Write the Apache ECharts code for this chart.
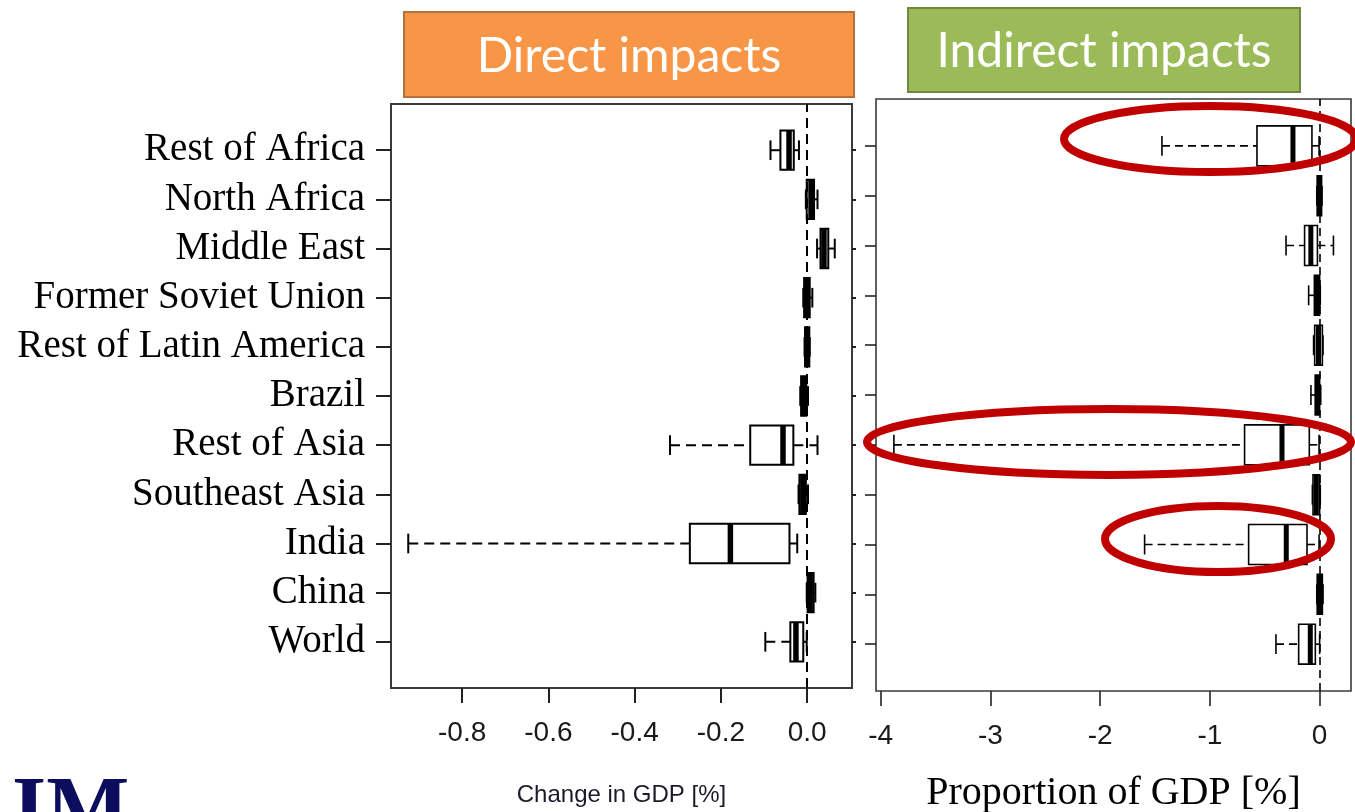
<!DOCTYPE html>
<html>
<head>
<meta charset="utf-8">
<script src="https://cdn.jsdelivr.net/npm/echarts@6/dist/echarts.min.js"></script>
<style>
  html, body { margin: 0; padding: 0; background: #ffffff; }
  #chart { width: 1355px; height: 812px; }
</style>
</head>
<body>
<div id="chart"></div>
<script>
// Regions, listed top to bottom as they appear on the y axis
const regions = [
  'Rest of Africa', 'North Africa', 'Middle East', 'Former Soviet Union',
  'Rest of Latin America', 'Brazil', 'Rest of Asia', 'Southeast Asia',
  'India', 'China', 'World'
];

// Direct impacts: change in GDP [%] — [lower whisker, Q1, median, Q3, upper whisker]
const directStats = [
  [-0.085, -0.062, -0.042, -0.031, -0.019],
  [-0.003, -0.001,  0.009,  0.016,  0.024],
  [ 0.023,  0.031,  0.039,  0.049,  0.064],
  [-0.009, -0.007, -0.001,  0.006,  0.012],
  [-0.006, -0.005,  0.000,  0.005,  0.006],
  [-0.016, -0.014, -0.008, -0.002,  0.002],
  [-0.318, -0.132, -0.056, -0.032,  0.024],
  [-0.020, -0.018, -0.010, -0.003,  0.002],
  [-0.925, -0.272, -0.178, -0.041, -0.023],
  [-0.001,  0.001,  0.007,  0.015,  0.019],
  [-0.097, -0.039, -0.026, -0.009, -0.001]
];

// Indirect impacts: proportion of GDP [%] — [lower whisker, Q1, median, Q3, upper whisker]
const indirectStats = [
  [-1.437, -0.571, -0.243, -0.070, -0.005],
  [-0.026, -0.022, -0.002,  0.018,  0.022],
  [-0.306, -0.137, -0.080, -0.020,  0.126],
  [-0.100, -0.048, -0.025,  0.000,  0.006],
  [-0.055, -0.045, -0.010,  0.025,  0.031],
  [-0.079, -0.040, -0.020,  0.000,  0.010],
  [-3.880, -0.684, -0.343, -0.094, -0.005],
  [-0.066, -0.060, -0.030,  0.000,  0.006],
  [-1.595, -0.647, -0.304, -0.115, -0.005],
  [-0.026, -0.022,  0.000,  0.025,  0.031],
  [-0.398, -0.191, -0.085, -0.039,  0.000]
];

// Axis tick values
const directTicks = [-0.8, -0.6, -0.4, -0.2, 0.0];
const indirectTicks = [-4, -3, -2, -1, 0];

const n = regions.length;
const positions = regions.map((_, i) => n - i);   // 11 at top ... 1 at bottom
const BOX_WEX = 0.8;

function toRows(stats) {
  return stats.map((s, i) => [positions[i]].concat(s));
}

function regionAt(v) {
  const i = n - Math.round(v);
  return regions[i] || '';
}

// Boxplot glyph: dashed whiskers, solid staples, white box, thick median
function boxRenderer(lw, medW, dash) {
  return function (params, api) {
    const pos = api.value(0);
    const lo = api.coord([api.value(1), pos]);
    const q1 = api.coord([api.value(2), pos]);
    const md = api.coord([api.value(3), pos]);
    const q3 = api.coord([api.value(4), pos]);
    const hi = api.coord([api.value(5), pos]);
    const h = api.size([0, BOX_WEX])[1];
    const y = q1[1];
    const ink = '#000';
    return {
      type: 'group',
      children: [
        { type: 'line', shape: { x1: lo[0], y1: y, x2: q1[0], y2: y },
          style: { stroke: ink, lineWidth: lw, lineDash: dash } },
        { type: 'line', shape: { x1: q3[0], y1: y, x2: hi[0], y2: y },
          style: { stroke: ink, lineWidth: lw, lineDash: dash } },
        { type: 'line', shape: { x1: lo[0], y1: y - h / 4, x2: lo[0], y2: y + h / 4 },
          style: { stroke: ink, lineWidth: lw } },
        { type: 'line', shape: { x1: hi[0], y1: y - h / 4, x2: hi[0], y2: y + h / 4 },
          style: { stroke: ink, lineWidth: lw } },
        { type: 'rect', shape: { x: q1[0], y: y - h / 2, width: q3[0] - q1[0], height: h },
          style: { fill: '#ffffff', stroke: ink, lineWidth: lw } },
        { type: 'line', shape: { x1: md[0], y1: y - h / 2, x2: md[0], y2: y + h / 2 },
          style: { stroke: ink, lineWidth: medW } }
      ]
    };
  };
}

function zeroLine(dash, width) {
  return {
    silent: true,
    symbol: ['none', 'none'],
    label: { show: false },
    lineStyle: { color: '#000', type: dash, width: width },
    data: [{ xAxis: 0 }],
    z: 10
  };
}

const chart = echarts.init(document.getElementById('chart'), null, { renderer: 'canvas' });

const tickLabelStyle = {
  fontFamily: 'Liberation Sans, Arial, sans-serif',
  fontSize: 28,
  color: '#1a1a1a'
};

const hiddenLine = { show: false, onZero: false };

const option = {
  animation: false,
  backgroundColor: '#ffffff',
  grid: [
    { left: 391, top: 104, width: 461, height: 584, show: true,
      outerBoundsMode: 'none', containLabel: false,
      borderColor: '#3a3a3a', borderWidth: 2, backgroundColor: '#ffffff' },
    { left: 876, top: 99, width: 475, height: 592, show: true,
      outerBoundsMode: 'none', containLabel: false,
      borderColor: '#3a3a3a', borderWidth: 1.6, backgroundColor: '#ffffff' }
  ],
  xAxis: [
    {
      gridIndex: 0, type: 'value', min: -0.965, max: 0.104,
      axisLine: hiddenLine,
      splitLine: { show: false },
      axisTick: { show: true, inside: false, length: 15, customValues: directTicks,
        lineStyle: { color: '#222', width: 2 } },
      axisLabel: { margin: 31, customValues: directTicks,
        formatter: v => Number(v).toFixed(1), ...tickLabelStyle },
      name: 'Change in GDP [%]',
      nameLocation: 'middle',
      nameGap: 95,
      nameTextStyle: { fontFamily: 'Liberation Sans, Arial, sans-serif', fontSize: 24, color: '#1a1a2a' }
    },
    {
      gridIndex: 1, type: 'value', min: -4.043, max: 0.286,
      axisLine: hiddenLine,
      splitLine: { show: false },
      axisTick: { show: true, inside: false, length: 15, customValues: indirectTicks,
        lineStyle: { color: '#222', width: 1.6 } },
      axisLabel: { margin: 31, customValues: indirectTicks,
        formatter: v => String(Math.round(v)), ...tickLabelStyle },
      name: 'Proportion of GDP [%]',
      nameLocation: 'middle',
      nameGap: 82,
      nameTextStyle: { fontFamily: 'Liberation Serif, Times New Roman, serif', fontSize: 40, color: '#000' }
    }
  ],
  yAxis: [
    {
      gridIndex: 0, type: 'value', min: 0.06, max: 11.94, position: 'left',
      axisLine: hiddenLine,
      splitLine: { show: false },
      axisTick: { show: true, inside: false, length: 15, customValues: positions,
        lineStyle: { color: '#222', width: 2 } },
      axisLabel: {
        customValues: positions,
        formatter: v => regionAt(v),
        margin: 26,
        padding: [0, 0, 14, 0],
        fontFamily: 'Liberation Serif, Times New Roman, serif',
        fontSize: 39,
        color: '#000'
      }
    },
    {
      gridIndex: 0, type: 'value', min: 0.06, max: 11.94, position: 'right',
      axisLine: hiddenLine,
      splitLine: { show: false },
      axisTick: { show: true, inside: false, length: 4, customValues: positions,
        lineStyle: { color: '#222', width: 2 } },
      axisLabel: { show: false }
    },
    {
      gridIndex: 1, type: 'value', min: 0.06, max: 11.94, position: 'left',
      axisLine: hiddenLine,
      splitLine: { show: false },
      axisTick: { show: true, inside: false, length: 11, customValues: positions,
        lineStyle: { color: '#222', width: 1.6 } },
      axisLabel: { show: false }
    }
  ],
  series: [
    {
      name: 'Direct impacts',
      type: 'custom',
      xAxisIndex: 0, yAxisIndex: 0,
      renderItem: boxRenderer(2, 5.5, [10, 6]),
      encode: { x: [1, 2, 3, 4, 5], y: 0 },
      data: toRows(directStats),
      markLine: zeroLine([10, 6], 2),
      z: 2
    },
    {
      name: 'Indirect impacts',
      type: 'custom',
      xAxisIndex: 1, yAxisIndex: 2,
      renderItem: boxRenderer(1.6, 5, [8, 5]),
      encode: { x: [1, 2, 3, 4, 5], y: 0 },
      data: toRows(indirectStats),
      markLine: zeroLine([8, 5], 1.6),
      z: 2
    }
  ],
  graphic: [
    // panel headers
    { type: 'rect', shape: { x: 404, y: 12, width: 450, height: 85 },
      style: { fill: '#F79646', stroke: '#B8703A', lineWidth: 2 }, z: 50 },
    { type: 'text', x: 629, y: 57, z: 51,
      style: { text: 'Direct impacts', fill: '#ffffff', font: '48px Lato, "Open Sans", sans-serif',
        textAlign: 'center', textVerticalAlign: 'middle' } },
    { type: 'rect', shape: { x: 908, y: 8, width: 392, height: 84 },
      style: { fill: '#9BBB59', stroke: '#71893F', lineWidth: 2 }, z: 50 },
    { type: 'text', x: 1104, y: 52, z: 51,
      style: { text: 'Indirect impacts', fill: '#ffffff', font: '48px Lato, "Open Sans", sans-serif',
        textAlign: 'center', textVerticalAlign: 'middle' } },
    // highlight rings
    { type: 'ellipse', shape: { cx: 1210, cy: 139, rx: 146, ry: 33 },
      style: { fill: 'none', stroke: '#C00000', lineWidth: 8 }, z: 60 },
    { type: 'ellipse', shape: { cx: 1109, cy: 442, rx: 242, ry: 33 },
      style: { fill: 'none', stroke: '#C00000', lineWidth: 8 }, z: 60 },
    { type: 'ellipse', shape: { cx: 1218, cy: 539, rx: 113, ry: 33 },
      style: { fill: 'none', stroke: '#C00000', lineWidth: 8 }, z: 60 },
    // logo mark
    { type: 'text', x: 12, y: 770, z: 50,
      style: { text: 'IM', fill: '#0d0d5e', font: 'bold 88px "Liberation Serif", "Times New Roman", serif',
        textAlign: 'left', textVerticalAlign: 'top' } }
  ]
};

chart.setOption(option);
</script>
</body>
</html>
